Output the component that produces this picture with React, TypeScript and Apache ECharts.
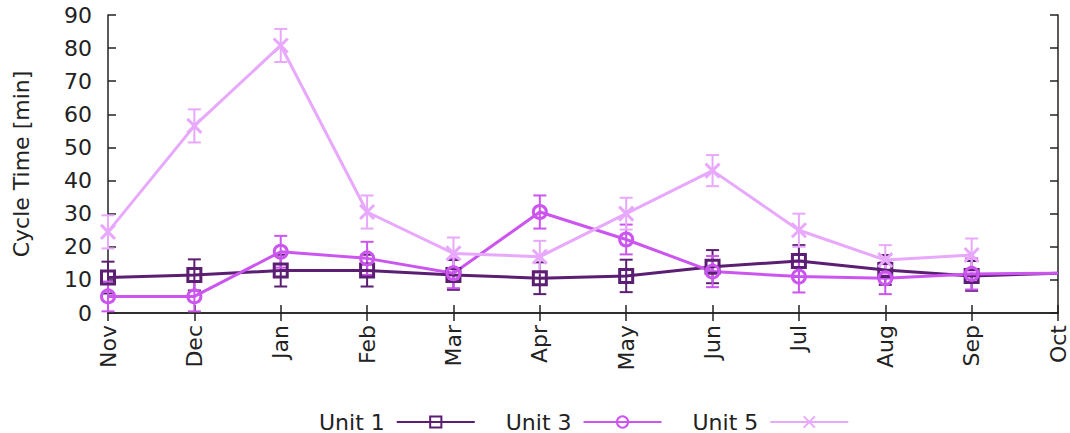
import React, { useEffect, useRef } from "react";
import * as echarts from "echarts";

const months = ["Nov", "Dec", "Jan", "Feb", "Mar", "Apr", "May", "Jun", "Jul", "Aug", "Sep", "Oct"];
const yTicks = { min: 0, max: 90, interval: 10 };

const unit1 = [10.7, 11.5, 12.8, 12.8, 11.5, 10.5, 11.2, 14.0, 15.7, 13.0, 11.2, 12.0];
const unit1Err = [4.8, 4.7, 4.8, 4.8, 4.5, 4.8, 4.9, 5.0, 4.8, 4.5, 4.5, 0];
const unit3 = [5.0, 5.0, 18.5, 16.5, 12.0, 30.5, 22.2, 12.5, 11.0, 10.5, 11.8, 12.0];
const unit3Err = [4.5, 4.5, 4.8, 5.0, 4.5, 5.0, 4.5, 4.7, 4.8, 4.8, 4.7, 0];
const unit5 = [24.5, 56.5, 80.8, 30.5, 18.0, 17.0, 30.0, 43.0, 25.0, 16.0, 17.5, null];
const unit5Err = [5.0, 5.0, 5.0, 5.0, 4.8, 4.8, 4.8, 4.7, 5.0, 4.5, 5.0, null];

const names = ["Unit 1", "Unit 3", "Unit 5"];
const colors = ["#5b1e72", "#cc55f0", "#e8a8fc"];

const FONT = "DejaVu Sans";
const FS = 22;

function errSeries(vals: (number | null)[], errs: (number | null)[], color: string) {
  const data = vals
    .map((v, i) => (v == null || errs[i] == null || errs[i] === 0 ? null : [i, v - (errs[i] as number), v + (errs[i] as number)]))
    .filter((d) => d != null);
  return {
    type: "custom",
    name: "err-" + color,
    silent: true,
    z: 3,
    data,
    renderItem: (params: any, api: any) => {
      const x = api.value(0);
      const lo = api.coord([x, api.value(1)]);
      const hi = api.coord([x, api.value(2)]);
      const w = 6.5;
      const style = { stroke: color, lineWidth: 2 };
      return {
        type: "group",
        children: [
          { type: "line", shape: { x1: lo[0], y1: lo[1], x2: hi[0], y2: hi[1] }, style },
          { type: "line", shape: { x1: lo[0] - w, y1: lo[1], x2: lo[0] + w, y2: lo[1] }, style },
          { type: "line", shape: { x1: hi[0] - w, y1: hi[1], x2: hi[0] + w, y2: hi[1] }, style },
        ],
      };
    },
  };
}

function lineSeries(name: string, vals: (number | null)[], errs: (number | null)[], color: string, symbol: string, size: number) {
  // points without an error bar (last month) are drawn without a marker
  const data = vals.map((v, i) => (v != null && errs[i] === 0 ? { value: v, symbol: "none" } : v));
  return {
    type: "line",
    name,
    data,
    z: 4,
    symbol,
    symbolSize: size,
    showAllSymbol: true,
    lineStyle: { color, width: 3 },
    itemStyle: { color: "rgba(255,255,255,0)", borderColor: color, borderWidth: 3 },
  };
}

export default function App() {
  const ref = useRef<HTMLDivElement>(null);
  useEffect(() => {
    document.body.style.margin = "0";
    const chart = echarts.init(ref.current!, null, { renderer: "svg" });
    const axisLine = { show: true, lineStyle: { color: "#222", width: 1.5 } };
    const tick = { show: true, inside: true, length: 8, lineStyle: { color: "#222", width: 1.5 } };
    chart.setOption({
      animation: false,
      backgroundColor: "#fff",
      textStyle: { fontFamily: FONT },
      grid: { left: 108, right: 12, top: 15, bottom: 120 },
      legend: {
        data: names,
        left: 314,
        top: 406,
        align: "right",
        itemWidth: 78,
        itemHeight: 14,
        itemGap: 30,
        formatter: (n: string) => n + "\u00a0",
        textStyle: { fontFamily: FONT, fontSize: FS, color: "#222" },
      },
      xAxis: [
        {
          type: "category",
          data: months,
          boundaryGap: false,
          axisLine,
          axisTick: tick,
          splitLine: { show: false },
          axisLabel: { rotate: 90, fontSize: FS, color: "#222", fontFamily: FONT, margin: 12 },
        },
        {
          type: "category",
          data: months,
          position: "top",
          boundaryGap: false,
          axisLine,
          axisTick: tick,
          axisLabel: { show: false },
        },
      ],
      yAxis: [
        {
          type: "value",
          min: yTicks.min,
          max: yTicks.max,
          interval: yTicks.interval,
          name: "Cycle Time [min]",
          nameLocation: "middle",
          nameGap: 76,
          nameTextStyle: { fontSize: FS, color: "#222", fontFamily: FONT },
          axisLine,
          axisTick: tick,
          splitLine: { show: false },
          axisLabel: { fontSize: FS, color: "#222", fontFamily: FONT, margin: 16 },
        },
        {
          type: "value",
          min: yTicks.min,
          max: yTicks.max,
          interval: yTicks.interval,
          position: "right",
          axisLine,
          axisTick: tick,
          splitLine: { show: false },
          axisLabel: { show: false },
        },
      ],
      series: [
        errSeries(unit1, unit1Err, colors[0]),
        errSeries(unit3, unit3Err, colors[1]),
        errSeries(unit5, unit5Err, colors[2]),
        lineSeries(names[0], unit1, unit1Err, colors[0], "rect", 13),
        lineSeries(names[1], unit3, unit3Err, colors[1], "circle", 13),
        lineSeries(names[2], unit5, unit5Err, colors[2], "path://M0,0L10,10M0,10L10,0", 14),
      ],
    });
    return () => chart.dispose();
  }, []);
  return <div ref={ref} style={{ width: 1070, height: 433 }} />;
}
